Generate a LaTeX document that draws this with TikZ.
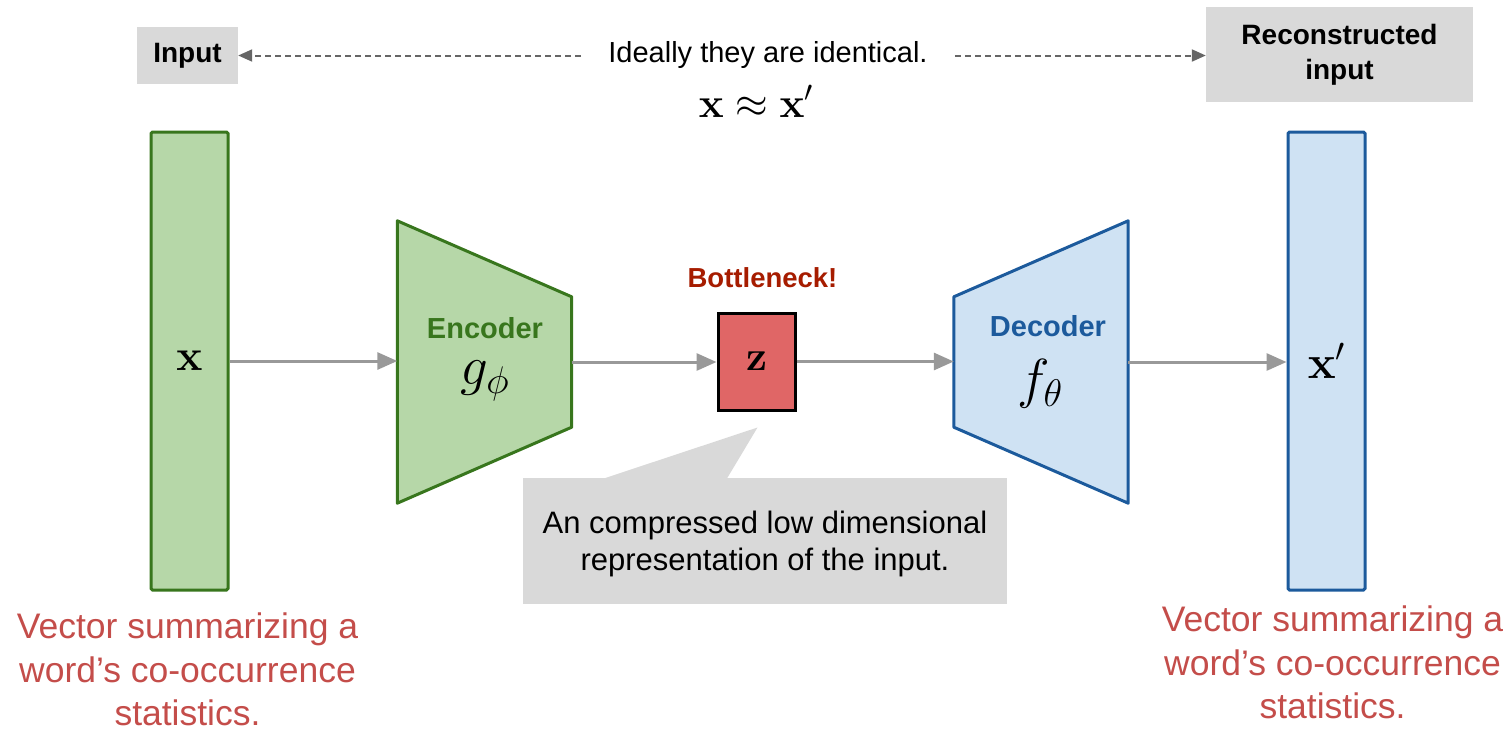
\documentclass[tikz,border=0pt]{standalone}
\usepackage{fix-cm}
\usepackage[no-math]{fontspec}
\setmainfont{Liberation Sans}
\usetikzlibrary{arrows.meta,calc}

\definecolor{encfill}{HTML}{B6D7A8}
\definecolor{encline}{HTML}{38761D}
\definecolor{decfill}{HTML}{CFE2F3}
\definecolor{decline}{HTML}{1C5A9C}
\definecolor{codefill}{HTML}{E06666}
\definecolor{notegray}{HTML}{D9D9D9}
\definecolor{flowgray}{HTML}{999999}
\definecolor{dashgray}{HTML}{666666}
\definecolor{alertred}{HTML}{A61C00}
\definecolor{captionred}{HTML}{C44D4A}

\newcommand{\fsz}[1]{\fontsize{#1}{#1}\selectfont}

\begin{document}
\begin{tikzpicture}[x=1pt,y=-1pt,
  vecbox/.style={draw, line width=3pt, rounded corners=1.5pt, minimum width=77pt,
    minimum height=458pt, inner sep=0pt},
  stage/.style={inner sep=0pt, minimum width=174pt, minimum height=282pt},
  flow/.style={draw=flowgray, line width=3pt, -{Triangle[length=20pt,width=17pt]}},
  hint/.style={draw=dashgray, line width=2pt, dash pattern=on 6pt off 4pt,
    -{Triangle[length=14pt,width=12pt]}},
  tag/.style={fill=notegray, align=center, inner sep=0pt,
    font=\bfseries\fontsize{28}{35}\selectfont},
  caption/.style={text=captionred, align=center, anchor=north, inner sep=0pt,
    font=\fontsize{35.5}{43.5}\selectfont},
  stagename/.style={anchor=base, inner sep=0pt, font=\bfseries\fsz{29}},
  mathlabel/.style={inner sep=0pt, font=\fsz{55}}]

\useasboundingbox (0,0) rectangle (1511,734);

% input and reconstructed vectors
\node[vecbox, draw=encline, fill=encfill, font=\fsz{44}] (x) at (189.5,361) {$\mathbf{x}$};
\node[vecbox, draw=decline, fill=decfill, font=\fsz{47}] (xr) at (1326.5,361) {$\mathbf{x}'$};

% encoder trapezoid
\node[stage] (enc) at (484.5,362) {};
\draw[draw=encline, fill=encfill, line width=3pt, line join=round]
  (enc.north west) -- ($(enc.north east)+(0,76)$) -- ($(enc.south east)+(0,-76)$)
  -- (enc.south west) -- cycle;
\node[stagename, text=encline] (enclbl) at (485,338) {Encoder};
\node[mathlabel] (encfn) at (485,381) {$g_\phi$};

% decoder trapezoid
\node[stage] (dec) at (1041,362) {};
\draw[draw=decline, fill=decfill, line width=3pt, line join=round]
  ($(dec.north west)+(0,76)$) -- (dec.north east) -- (dec.south east)
  -- ($(dec.south west)+(0,-76)$) -- cycle;
\node[stagename, text=decline] (declbl) at (1048,336) {Decoder};
\node[mathlabel] (decfn) at (1040,384) {$f_\theta$};

% bottleneck code
\node[draw=black, fill=codefill, line width=3pt, minimum width=77pt, minimum height=97pt,
  inner sep=0pt, font=\fsz{42}] (z) at (756.5,361.5) {$\mathbf{z}$};
\node[anchor=base, inner sep=0pt, text=alertred, font=\bfseries\fsz{27.5}] (bn)
  at (762.5,287) {Bottleneck!};

% data flow
\draw[flow] (x.east) -- (x.east -| enc.west);
\draw[flow] (enc.east) -- (enc.east -| z.west);
\draw[flow] (z.east) -- (z.east -| dec.west);
\draw[flow] (dec.east) -- (dec.east -| xr.west);

% callout for the code
\node[fill=notegray, minimum width=484pt, minimum height=126pt] (note) at (765,541) {};
\node[align=center, inner sep=0pt, font=\fontsize{31}{37}\selectfont] (notetext)
  at (765,544) {An compressed low dimensional\\representation of the input.};
\coordinate (tip) at ($(z.south)+(1,16)$);
\fill[notegray] (tip) -- ($(note.north west)+(80,1)$) -- ($(note.north west)+(204,1)$) -- cycle;

% top row
\node[tag, minimum width=101pt, minimum height=57pt] (in) at (187.5,55.5) {Input};
\node[tag, minimum width=267pt, minimum height=95pt] (rec) at (1339.5,54.5) {Reconstructed\\input};
\node[inner xsep=27pt, inner ysep=0pt, font=\fsz{29}] (ideal) at (768,55) {Ideally they are identical.};
\draw[hint] (ideal.west |- in.east) -- (in.east);
\draw[hint] (ideal.east |- in.east) -- (in.east -| rec.west);
\node[anchor=base, inner sep=0pt, font=\fsz{42}] (eq) at (756,117)
  {$\mathbf{x}\approx\mathbf{x}'$};

% captions under the vectors
\node[caption] (capl) at (187.5,613) {Vector summarizing a\\word’s co-occurrence\\statistics.};
\node[caption] (capr) at (1332.5,606) {Vector summarizing a\\word’s co-occurrence\\statistics.};

\end{tikzpicture}
\end{document}
